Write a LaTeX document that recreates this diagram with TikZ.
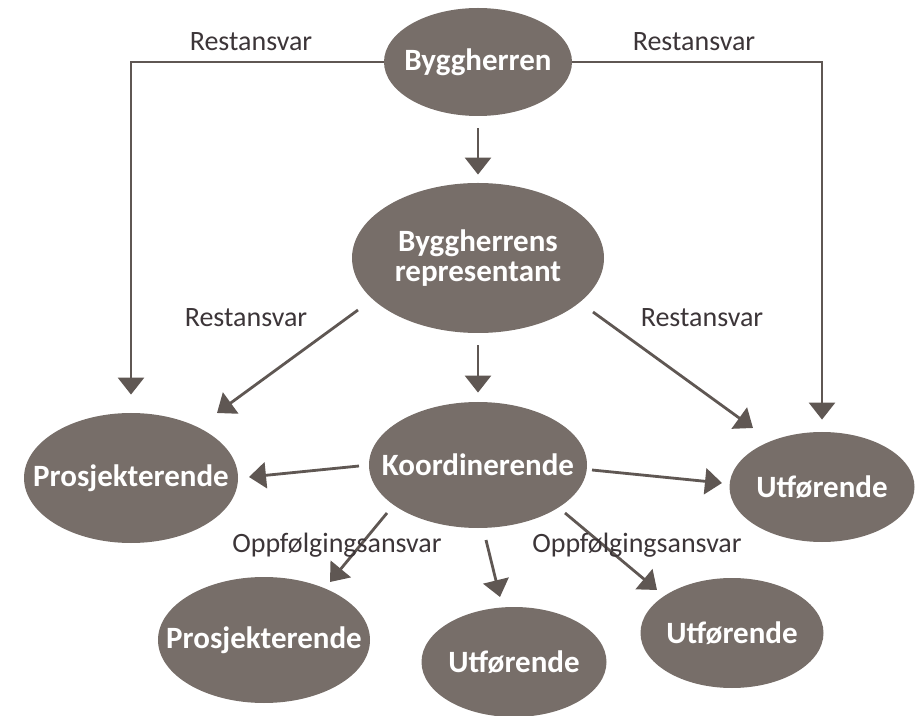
\documentclass[tikz,border=0pt]{standalone}
\usepackage{fontspec}
\setmainfont{Carlito}
\usepackage{tikz}
\usetikzlibrary{arrows.meta,shapes.geometric}
\definecolor{bgrey}{HTML}{776E69}
\definecolor{bline}{HTML}{5F5753}
\definecolor{btext}{HTML}{3C3538}

\begin{document}
\begin{tikzpicture}[x=0.5pt, y=-0.5pt,
    actor/.style={ellipse, fill=bgrey, inner sep=0pt},
    intext/.style={text=white, font=\fontsize{15.5}{15}\selectfont\bfseries, align=center},
    arr/.style={-{Triangle[length=8.5pt, width=13pt]}, line width=1.4pt, draw=bline},
    lbl/.style={font=\fontsize{14}{14}\selectfont, text=btext}
]
    \useasboundingbox (0,0) rectangle (921,716);

    \node[actor, minimum width=94pt, minimum height=54pt, label={[intext]center:Byggherren}] (byg) at (478,62) {};
    \node[actor, minimum width=126pt, minimum height=75pt, label={[intext]center:Byggherrens\\representant}] (rep) at (478,258) {};
    \node[actor, minimum width=109pt, minimum height=63pt, label={[intext]center:Koordinerende}] (koord) at (478,465) {};
    \node[actor, minimum width=107pt, minimum height=65pt, label={[intext]center:Prosjekterende}] (prosjA) at (131,478) {};
    \node[actor, minimum width=92.5pt, minimum height=55pt, label={[intext]center:Utførende}] (utfA) at (822,487) {};
    \node[actor, minimum width=106pt, minimum height=63pt, label={[intext]center:Prosjekterende}] (prosjB) at (264,640) {};
    \node[actor, minimum width=92.5pt, minimum height=55pt, label={[intext]center:Utførende}] (utfB) at (514,662) {};
    \node[actor, minimum width=91.5pt, minimum height=55pt, label={[intext]center:Utførende}] (utfC) at (732,633) {};

    % Restansvar
    \draw[arr, shorten >=9pt] (byg.west) -| (prosjA.north);
    \draw[arr, shorten >=6pt] (byg.east) -| (utfA.north);
    \draw[arr, shorten <=6pt, shorten >=4pt] (byg.south) -- (rep.north);
    \draw[arr, shorten <=6pt, shorten >=4.5pt] (rep.south) -- (koord.north);
    \draw[arr] ([shift={(-120,52)}]rep.center) -- ([shift={(86,-65)}]prosjA.center);
    \draw[arr] ([shift={(115,54)}]rep.center) -- ([shift={(-69,-59)}]utfA.center);

    % Oppfolging
    \draw[arr] ([shift={(-119,1)}]koord.center) -- ([shift={(118,-1)}]prosjA.center);
    \draw[arr] ([shift={(114,5)}]koord.center) -- ([shift={(-100,-4)}]utfA.center);
    \draw[arr] ([shift={(-91,48)}]koord.center) -- ([shift={(66,-58)}]prosjB.center);
    \draw[arr] ([shift={(8,75)}]koord.center) -- ([shift={(-14,-65)}]utfB.center);
    \draw[arr] ([shift={(87,48)}]koord.center) -- ([shift={(-75,-43)}]utfC.center);

    \node[lbl] (rTopL) at (251,42) {Restansvar};
    \node[lbl] (rTopR) at (694,42) {Restansvar};
    \node[lbl] (rMidL) at (246,318) {Restansvar};
    \node[lbl] (rMidR) at (702,318) {Restansvar};
    \node[lbl] (oL) at (337,545) {Oppfølgingsansvar};
    \node[lbl] (oR) at (637,545) {Oppfølgingsansvar};
\end{tikzpicture}
\end{document}
